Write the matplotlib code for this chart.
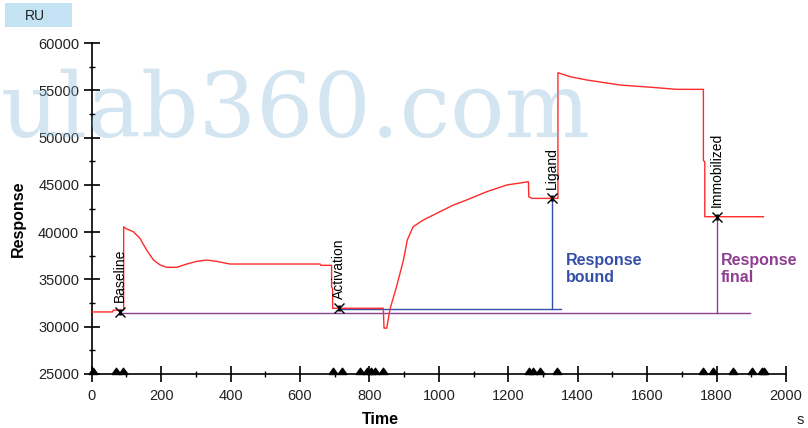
import matplotlib
matplotlib.use('Agg')
import matplotlib.pyplot as plt
from matplotlib.patches import Rectangle
from matplotlib.ticker import MultipleLocator

plt.rcParams['font.family'] = ['Liberation Sans', 'DejaVu Sans']

# Sensorgram trace (time in s, response in RU)
time_s = [0, 60, 62, 92, 92, 100, 120, 139, 158, 178, 197, 216, 245, 274,
          302, 331, 360, 398, 504, 658, 660, 691, 691, 694, 694, 840, 842,
          850, 859, 878, 898, 909, 926, 955, 965, 1003, 1042, 1080, 1138,
          1196, 1258, 1259, 1268, 1343, 1343, 1378, 1426, 1522, 1618, 1685,
          1762, 1762, 1766, 1766, 1935]
response = [31560, 31560, 31750, 31750, 40560, 40350, 40040, 39350, 38110,
            37050, 36530, 36280, 36280, 36630, 36910, 37050, 36910, 36630,
            36630, 36630, 36490, 36490, 34200, 34000, 31950, 31950, 29850,
            29850, 31840, 34230, 37050, 39170, 40575, 41280, 41460, 42160,
            42870, 43400, 44280, 44990, 45330, 43750, 43570, 43570, 56860,
            56440, 56090, 55560, 55300, 55100, 55100, 47600, 47400, 41630,
            41630]

# Report points
point_names = ['Baseline', 'Activation', 'Ligand', 'Immobilized']
point_time = [82, 712, 1325, 1800]
point_resp = [31600, 31950, 43570, 41630]

# Response bound / final reference levels
bound_level = 31840
bound_span = [712, 1352]
final_level = 31420
final_span = [82, 1895]

# Event flags along the time axis
event_times = [3, 70, 91, 696, 720, 773, 794, 804, 816, 838, 1261, 1270,
               1290, 1341, 1762, 1791, 1846, 1902, 1930, 1938]

red = '#ff2a2a'
blue = '#3550a8'
purple = '#8e3f90'

fig = plt.figure(figsize=(8.08, 4.28), dpi=100)
ax = fig.add_axes([0.1135, 0.1262, 0.8593, 0.7733])

ax.plot(time_s, response, color=red, lw=1.0, zorder=3)

# blue: response bound
ax.plot(bound_span, [bound_level, bound_level], color=blue, lw=1.0, zorder=2)
ax.plot([point_time[2], point_time[2]], [bound_level, point_resp[2]],
        color=blue, lw=1.0, zorder=2)
# purple: response final
ax.plot(final_span, [final_level, final_level], color=purple, lw=1.0, zorder=2)
ax.plot([point_time[3], point_time[3]], [final_level, point_resp[3]],
        color=purple, lw=1.0, zorder=2)

for name, t, r in zip(point_names, point_time, point_resp):
    ax.plot(t, r, marker='x', ms=7, mew=1.0, color='black', zorder=4)
    ax.plot(t, r, marker='|', ms=5, mew=2.0, color='black', zorder=4)
    ax.annotate(name, (t, r), xytext=(0, 7), textcoords='offset points',
                rotation=90, ha='center', va='bottom', fontsize=10,
                color='black', zorder=5)

flag = [(-1, 0), (1, 0), (0, 1.4), (-1, 0)]
ax.plot(event_times, [25000] * len(event_times), ls='none', marker=flag,
        ms=9, color='black', clip_on=False, zorder=5)

ax.text(1367, 36100, 'Response\nbound', color=blue, fontsize=11.5,
        fontweight='bold', ha='left', va='center', linespacing=1.1)
ax.text(1813, 36100, 'Response\nfinal', color=purple, fontsize=11.5,
        fontweight='bold', ha='left', va='center', linespacing=1.1)

ax.set_xlim(0, 2000)
ax.set_ylim(25000, 60000)
ax.xaxis.set_major_locator(MultipleLocator(200))
ax.xaxis.set_minor_locator(MultipleLocator(100))
ax.yaxis.set_major_locator(MultipleLocator(5000))
ax.yaxis.set_minor_locator(MultipleLocator(2500))
ax.tick_params(which='major', direction='inout', length=12, width=1.2,
               labelsize=10.5, labelcolor='#222222')
ax.tick_params(which='minor', direction='inout', length=5, width=1.0)
ax.tick_params(axis='x', pad=5)
ax.tick_params(axis='y', pad=3)
for side in ['top', 'right']:
    ax.spines[side].set_visible(False)
for side in ['left', 'bottom']:
    ax.spines[side].set_linewidth(1.2)

fig.text(18 / 808, 1 - 219 / 428, 'Response', rotation=90, ha='center',
         va='center', fontsize=11.5, fontweight='bold')
fig.text(380 / 808, 1 - 420 / 428, 'Time', ha='center', va='center',
         fontsize=11.5, fontweight='bold')
fig.text(800 / 808, 1 - 420 / 428, 's', ha='center', va='center',
         fontsize=10.5, color='#222222')

# header tab behind the unit label
fig.patches.append(Rectangle((5 / 808, 1 - 27 / 428), 67 / 808, 24 / 428,
                             transform=fig.transFigure, fc='#c3e2f3',
                             ec='none', zorder=0))
fig.text(35 / 808, 1 - 16 / 428, 'RU', ha='center', va='center',
         fontsize=10, color='#222222')

fig.text(1 / 808, 1 - 137 / 428, 'ulab360.com', ha='left', va='baseline',
         fontsize=65, family='DejaVu Serif', color='#82b6d6', alpha=0.35,
         zorder=10)

fig.savefig('out.png', dpi=100)
